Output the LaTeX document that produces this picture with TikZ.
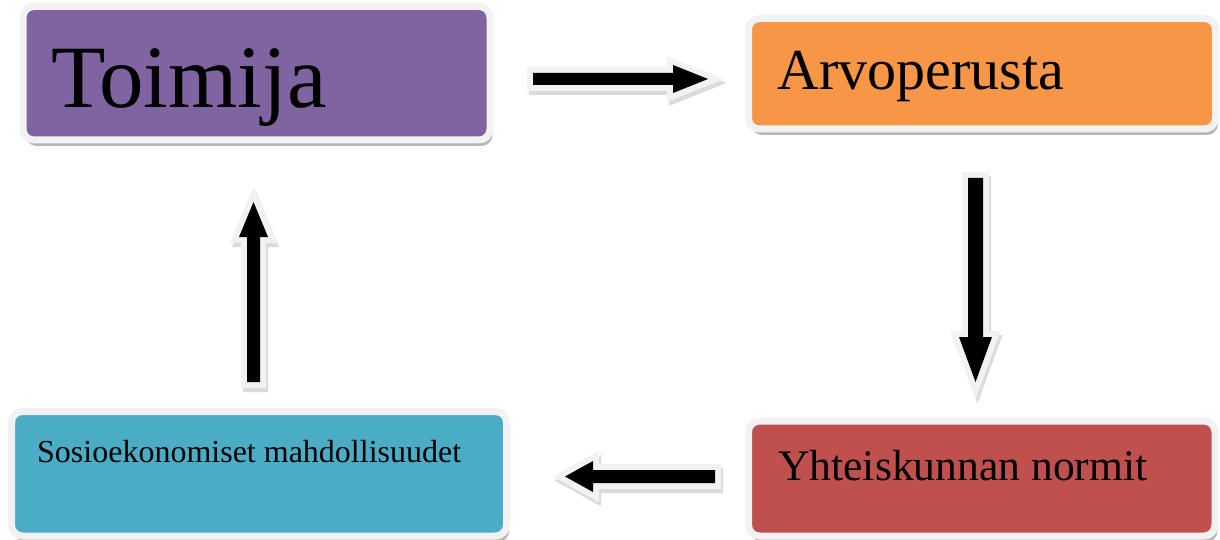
\documentclass[tikz,border=0pt]{standalone}
\usepackage{fontspec}
\setmainfont{Liberation Serif}
\usetikzlibrary{shadows}
\definecolor{cpurple}{HTML}{8064A2}
\definecolor{corange}{HTML}{F79646}
\definecolor{cred}{HTML}{C0504D}
\definecolor{cblue}{HTML}{4BACC6}
\definecolor{cborder}{HTML}{F2F2F2}
\definecolor{cshadow}{HTML}{9A9A9A}
\tikzset{
  boxnode/.style={rounded corners=11pt, draw=cborder, line width=7pt, inner sep=0pt,
    drop shadow={shadow xshift=2.5pt, shadow yshift=-6pt, fill=black, opacity=0.28}},
  lbl/.style={inner sep=0pt, anchor=base west, text=black},
  arrowout/.style={draw=cborder, line width=12pt, line join=miter, miter limit=10},
  arrowshadow/.style={draw=cshadow, line width=12pt, line join=miter, opacity=0.35},
  arrowin/.style={fill=black}
}
\begin{document}
\begin{tikzpicture}[x=1pt, y=-1pt]
\useasboundingbox[fill=white] (0,0) rectangle (1220,540);
% boxes
\node[boxnode, fill=cpurple, minimum width=467pt, minimum height=133.5pt] (b1) at (256.5,73.25) {};
\node[boxnode, fill=corange, minimum width=467pt, minimum height=110.5pt] (b2) at (982,73.75) {};
\node[boxnode, fill=cred, minimum width=466.5pt, minimum height=115pt] (b3) at (981.75,478.5) {};
\node[boxnode, fill=cblue, minimum width=495pt, minimum height=124.5pt] (b4) at (259,473.75) {};
% labels
\node[lbl, font=\fontsize{89}{93}\selectfont] (t1) at (51,108) {Toimija};
\node[lbl, font=\fontsize{58}{62}\selectfont] (t2) at (777,90) {Arvoperusta};
\node[lbl, font=\fontsize{43.6}{48}\selectfont] (t3) at (778,480) {Yhteiskunnan normit};
\node[lbl, font=\fontsize{32}{36}\selectfont] (t4) at (37,462) {Sosioekonomiset mahdollisuudet};
% right arrow (Toimija -> Arvoperusta)
\def\arrR{(533,73) -- (673,73) -- (673,65) -- (708,79) -- (673,93) -- (673,85) -- (533,85) -- cycle}
\draw[arrowshadow, xshift=2pt, yshift=-4pt] \arrR;
\draw[arrowout] \arrR;
\fill[arrowin] \arrR;
% down arrow (Arvoperusta -> Yhteiskunnan normit)
\def\arrD{(968,178) -- (983,178) -- (983,337) -- (992,337) -- (975.5,382) -- (959,337) -- (968,337) -- cycle}
\draw[arrowshadow, xshift=2pt, yshift=-4pt] \arrD;
\draw[arrowout] \arrD;
\fill[arrowin] \arrD;
% left arrow (Yhteiskunnan normit -> Sosioekonomiset)
\def\arrL{(715,470) -- (715,483) -- (593,483) -- (593,492) -- (565,476.5) -- (593,461) -- (593,470) -- cycle}
\draw[arrowshadow, xshift=2pt, yshift=-4pt] \arrL;
\draw[arrowout] \arrL;
\fill[arrowin] \arrL;
% up arrow (Sosioekonomiset -> Toimija)
\def\arrU{(247,382) -- (260,382) -- (260,237) -- (268,237) -- (253.5,202) -- (239,237) -- (247,237) -- cycle}
\draw[arrowshadow, xshift=2pt, yshift=-4pt] \arrU;
\draw[arrowout] \arrU;
\fill[arrowin] \arrU;
\end{tikzpicture}
\end{document}
